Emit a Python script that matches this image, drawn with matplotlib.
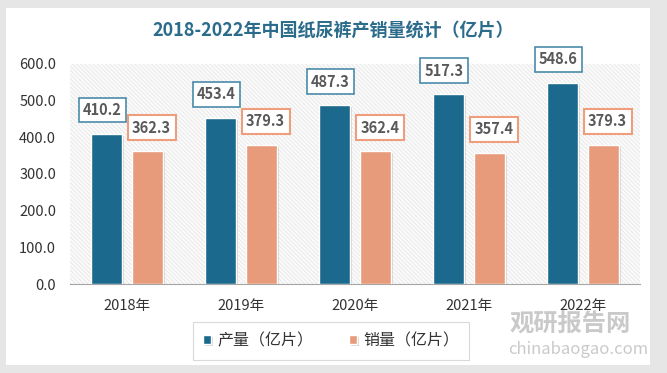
import matplotlib
matplotlib.use("Agg")
import matplotlib.pyplot as plt
import numpy as np
from matplotlib.patches import Rectangle
import matplotlib.patheffects as pe

plt.rcParams['font.family'] = ['Noto Sans CJK SC', 'DejaVu Sans']
plt.rcParams['hatch.linewidth'] = 0.6

years = ["2018年", "2019年", "2020年", "2021年", "2022年"]
production = [410.2, 453.4, 487.3, 517.3, 548.6]
sales = [362.3, 379.3, 362.4, 357.4, 379.3]
series_names = ["产量（亿片）", "销量（亿片）"]
title = "2018-2022年中国纸尿裤产销量统计（亿片）"
yticks = [0, 100, 200, 300, 400, 500, 600]

c_blue = "#1B6A8D"
c_sal = "#E89B7A"

fig = plt.figure(figsize=(6.67, 3.73), dpi=100)
fig.patch.set_facecolor("#E6E6E6")
# white card
card = Rectangle((6/667, 8/373), 644/667, 357/373, transform=fig.transFigure,
                 facecolor="white", edgecolor="none", zorder=-10)
fig.patches.append(card)

ax = fig.add_axes([70/667, 1-284/373, 570/667, 220/373])
ax.set_zorder(2)
ax.set_facecolor("none")
bg = Rectangle((0, 0), 1, 1, transform=ax.transAxes, facecolor="#FBFBFB",
               edgecolor="#E6E6E6", hatch="\\\\\\\\\\\\\\\\", linewidth=0, zorder=0)
ax.add_patch(bg)

x = np.arange(len(years))
w = 0.27
off = 0.18
shadow = [pe.SimplePatchShadow(offset=(1.5, -1.5), shadow_rgbFace="#BBBBBB", alpha=0.6), pe.Normal()]
b1 = ax.bar(x - off, production, w, color=c_blue, edgecolor="white", linewidth=1, zorder=3)
b2 = ax.bar(x + off, sales, w, color=c_sal, edgecolor="white", linewidth=1, zorder=3)
for b in list(b1) + list(b2):
    b.set_path_effects(shadow)

for xi, v in zip(x, production):
    ax.annotate(f"{v:.1f}", (xi - off, v), xytext=(-3, 17), textcoords="offset points",
                ha="center", va="center", fontsize=10.5, fontweight="bold", color="#595959",
                bbox=dict(boxstyle="square,pad=0.3", fc="white", ec="#4A8BAA", lw=1.2), zorder=5)
for xi, v in zip(x, sales):
    ax.annotate(f"{v:.1f}", (xi + off, v), xytext=(3, 17), textcoords="offset points",
                ha="center", va="center", fontsize=10.5, fontweight="bold", color="#595959",
                bbox=dict(boxstyle="square,pad=0.3", fc="white", ec="#EE9E7C", lw=1.5), zorder=5)

ax.set_xlim(-0.5, len(years) - 0.5)
ax.set_ylim(0, 600)
ax.set_yticks(yticks)
ax.set_yticklabels([f"{t:.1f}" for t in yticks], fontsize=10.5, color="#333333")
ax.set_xticks(x)
ax.set_xticklabels(years, fontsize=10.5, color="#333333")
ax.tick_params(axis="both", length=0)
ax.tick_params(axis="y", pad=10)
ax.tick_params(axis="x", pad=11)
for s in ["top", "right", "left"]:
    ax.spines[s].set_visible(False)
ax.spines["bottom"].set_color("#A6A6A6")

fig.text(0.5, 1-30/373, title, ha="center", va="center", fontsize=13,
         fontweight="bold", color="#2B6B8B")

leg = fig.legend([b1, b2], series_names, loc="center", bbox_to_anchor=(331/667, 1-341/373),
                 ncol=2, fontsize=11.5, frameon=True, handlelength=0.5, handleheight=0.5,
                 columnspacing=2.2, handletextpad=0.4, borderpad=0.35)
leg.get_frame().set_edgecolor("#D0D0D0")
leg.get_frame().set_boxstyle("square")
leg.get_frame().set_linewidth(0.8)
for t in leg.get_texts():
    t.set_color("#333333")

fig.text(510/667, 1-325/373, "观研报告网", ha="left", va="center", fontsize=17.5,
         fontweight="bold", color="#C4C4C4", alpha=0.9)
fig.text(508/667, 1-350/373, "chinabaogao.com", ha="left", va="center", fontsize=12,
         color="#C4C4C4", alpha=0.9)

fig.savefig("out.png", dpi=100)
